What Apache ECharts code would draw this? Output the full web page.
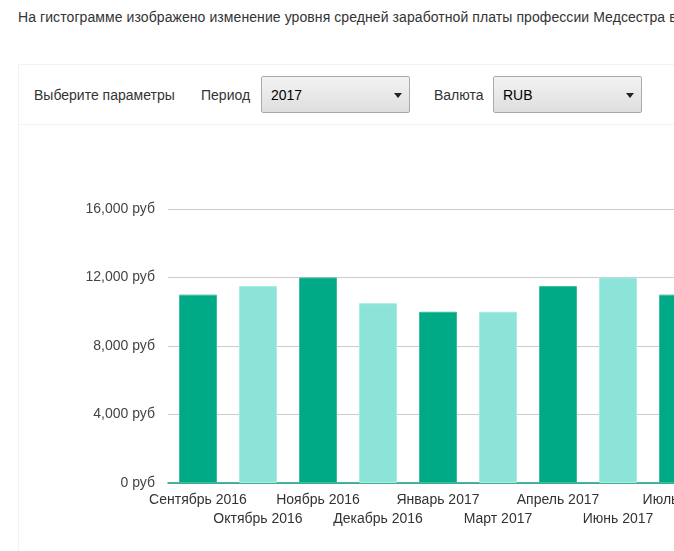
<!DOCTYPE html>
<html>
<head>
<meta charset="utf-8">
<script src="https://cdn.jsdelivr.net/npm/echarts@6/dist/echarts.min.js"></script>
<style>
    html, body { margin: 0; padding: 0; background: #fff; overflow: hidden; }
    body { width: 674px; height: 551px; position: relative; font-family: "Liberation Sans", Arial, sans-serif; color: #333; }
    .intro { position: absolute; left: 18px; top: 9px; font-size: 14px; letter-spacing: 0.08px; white-space: nowrap; }
    .panel { position: absolute; left: 18px; top: 64px; width: 780px; height: 600px; border: 1px solid #f2f2f2; }
    .params { position: absolute; left: 0; top: 0; width: 100%; height: 59px; border-bottom: 1px solid #f2f2f2; font-size: 14px; }
    .params span { position: absolute; top: 22px; }
    .sel { position: absolute; top: 11px; height: 37px; width: 149px; box-sizing: border-box; border: 1px solid #aaa; border-radius: 2px;
           background: linear-gradient(#f3f3f3, #dedede); font-size: 14px; color: #000; }
    .sel b { position: absolute; left: 9px; top: 10px; font-weight: normal; }
    .sel i { position: absolute; right: 7px; top: 16px; width: 0; height: 0; border-left: 4px solid transparent; border-right: 4px solid transparent; border-top: 5px solid #222; }
    #chart { position: absolute; left: 18px; top: 124px; width: 740px; height: 427px; }
</style>
</head>
<body>
<div class="intro">На гистограмме изображено изменение уровня средней заработной платы профессии Медсестра в</div>
<div class="panel">
    <div class="params">
        <span style="left:15px">Выберите параметры</span>
        <span style="left:182px">Период</span>
        <div class="sel" style="left:242px"><b>2017</b><i></i></div>
        <span style="left:415px">Валюта</span>
        <div class="sel" style="left:474px"><b>RUB</b><i></i></div>
    </div>
</div>
<div id="chart"></div>
<script>
const months = ["Сентябрь 2016", "Октябрь 2016", "Ноябрь 2016", "Декабрь 2016", "Январь 2017",
    "Март 2017", "Апрель 2017", "Июнь 2017", "Июль 2017"];
const salary = [11000, 11500, 12000, 10500, 10000, 10000, 11500, 12000, 11000];
const yTicks = { min: 0, max: 16000, step: 4000 };
const barColors = ["#00aa86", "#8ce4d9"];

const chart = echarts.init(document.getElementById("chart"));
const option = {
    animation: false,
    grid: { left: 150, top: 85, width: 540, height: 274 },
    xAxis: {
        type: "category",
        data: months,
        axisTick: { show: false },
        axisLine: { lineStyle: { color: "#10a07f", width: 1.5 } },
        axisLabel: {
            interval: 0,
            margin: 8,
            color: "#333",
            fontSize: 14,
            lineHeight: 19,
            fontFamily: "Liberation Sans",
            formatter: function (v, i) { return i % 2 ? "\n" + v : v; }
        }
    },
    yAxis: {
        type: "value",
        min: yTicks.min,
        max: yTicks.max,
        interval: yTicks.step,
        axisLine: { show: false },
        axisTick: { show: false },
        splitLine: { lineStyle: { color: "#ccc" } },
        axisLabel: {
            margin: 13,
            color: "#444",
            fontSize: 14,
            fontFamily: "Liberation Sans",
            formatter: function (v) { return v.toLocaleString("en-US") + " руб"; }
        }
    },
    series: [{
        type: "bar",
        barWidth: 38,
        data: salary.map(function (v, i) {
            return {
                value: v,
                itemStyle: {
                    color: barColors[i % 2],
                    borderColor: i % 2 ? "#a8ece3" : "#3dbb9d",
                    borderWidth: 1
                }
            };
        })
    }]
};
chart.setOption(option);
</script>
</body>
</html>
